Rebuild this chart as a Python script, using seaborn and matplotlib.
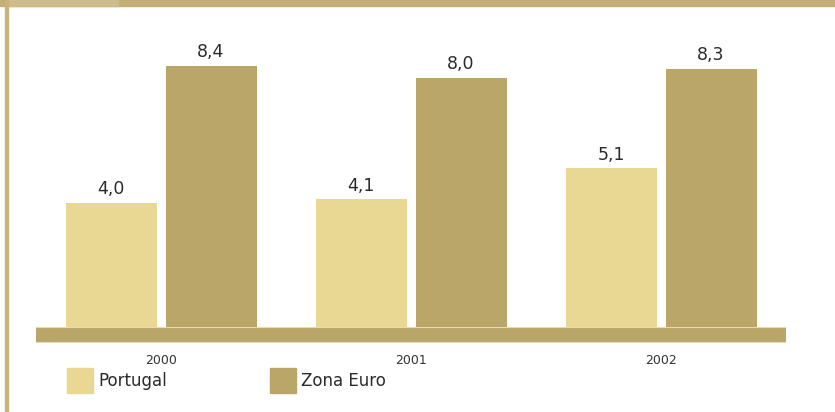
import matplotlib
matplotlib.use("Agg")
import matplotlib.pyplot as plt
import matplotlib.patches as mpatches
import seaborn as sns
import pandas as pd

years = ["2000", "2001", "2002"]
portugal = [4.0, 4.1, 5.1]
zona_euro = [8.4, 8.0, 8.3]
series_names = ["Portugal", "Zona Euro"]

c_pt = "#e8d893"
c_eu = "#bba66a"
c_frame = "#c4ae78"

df = pd.DataFrame({
    "ano": years * 2,
    "valor": portugal + zona_euro,
    "serie": [series_names[0]] * 3 + [series_names[1]] * 3,
})

sns.set_theme(style="white")
plt.rcParams["font.family"] = ["DejaVu Sans"]

W, H = 835, 412
fig = plt.figure(figsize=(W / 100, H / 100), dpi=100)

# frame decorations
fig.patches.append(mpatches.Rectangle((0, 1 - 6 / H), 1, 6 / H, transform=fig.transFigure,
                                      color=c_frame, zorder=0))
fig.patches.append(mpatches.Rectangle((8 / W, 1 - 6 / H), 110 / W, 6 / H, transform=fig.transFigure,
                                      color="#cdbd8c", zorder=0))
fig.patches.append(mpatches.Rectangle((5 / W, 0), 2.5 / W, 1, transform=fig.transFigure,
                                      color="#c8b47a", zorder=0))

px_per_unit = 31.1
floor_px = 16
ax_left, ax_right = 36, 786
ax_bottom_px, ax_top_px = 343, 6
ax = fig.add_axes([ax_left / W, (H - ax_bottom_px) / H, (ax_right - ax_left) / W,
                   (ax_bottom_px - ax_top_px) / H])

sns.barplot(data=df, x="ano", y="valor", hue="serie", palette={series_names[0]: c_pt, series_names[1]: c_eu},
            width=0.8, gap=0.09, saturation=1, legend=False, ax=ax, zorder=3,
            linewidth=0, edgecolor="none")

ymin = -floor_px / px_per_unit
ymax = ymin + (ax_bottom_px - ax_top_px) / px_per_unit
ax.set_ylim(ymin, ymax)
ax.set_xlim(-0.5, 2.5)

ax.axhspan(ymin, 0, color=c_eu, zorder=2, lw=0)
ax.axhline(0, color="#e6dbb3", lw=0.8, zorder=2.5)
ax.axhline(ymin + 0.02, color="#e6dbb3", lw=0.8, zorder=2.5)

for cont in ax.containers:
    labels = [f"{b.get_height():.1f}".replace(".", ",") for b in cont]
    ax.bar_label(cont, labels=labels, padding=3.5, fontsize=12.5, color="#2b2b2b")

for s in ax.spines.values():
    s.set_visible(False)
ax.set_yticks([])
ax.set_xlabel("")
ax.set_ylabel("")
ax.tick_params(axis="x", length=0, pad=8, labelsize=9, labelcolor="#333333")
ax.patch.set_alpha(0)

handles = [mpatches.Patch(color=c_pt, label=series_names[0]),
           mpatches.Patch(color=c_eu, label=series_names[1])]
fig.legend(handles=handles, loc="upper left", bbox_to_anchor=(67 / W, 1 - 367.5 / H), ncol=2,
           frameon=False, fontsize=12, handlelength=1.56, handleheight=1.97,
           handletextpad=0.3, columnspacing=6.2, borderpad=0, borderaxespad=0,
           labelcolor="#2b2b2b")

fig.savefig("out.png", dpi=100)
